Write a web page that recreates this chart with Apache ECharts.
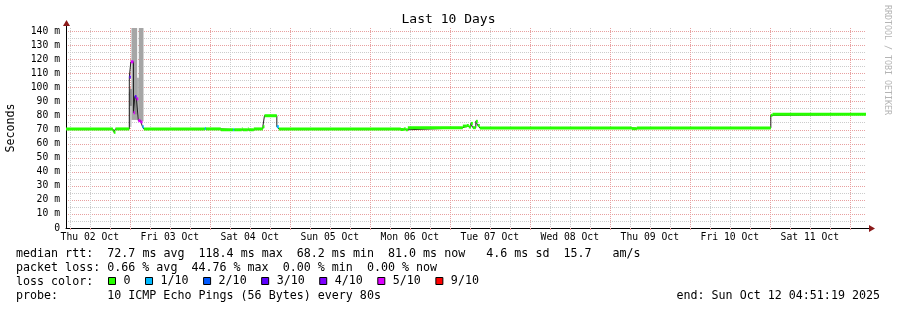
<!DOCTYPE html>
<html>
<head>
<meta charset="utf-8">
<script src="https://cdn.jsdelivr.net/npm/echarts@6/dist/echarts.min.js"></script>
<style>
  html, body { margin: 0; padding: 0; background: #fff; }
  #chart { width: 897px; height: 310px; }
</style>
</head>
<body>
<div id="chart"></div>
<script>
// time in hours since Thu 02 Oct 00:00
const startHour = 4.855;   // 04:51:19
const endHour = 244.855;   // Sun 12 Oct 04:51:19

const dayLabels = ['Thu 02 Oct', 'Fri 03 Oct', 'Sat 04 Oct', 'Sun 05 Oct', 'Mon 06 Oct',
  'Tue 07 Oct', 'Wed 08 Oct', 'Thu 09 Oct', 'Fri 10 Oct', 'Sat 11 Oct'];

// median rtt (ms), held from each time until the next one, with the loss count (of 10 pings)
const times = [4.855, 18.9, 19.2, 19.7, 23.85, 24.3, 25.1, 25.5, 26.0, 26.55, 27.2, 27.8, 28.2,
  46.5, 46.8, 51.3, 55.0, 55.3, 57.6, 57.9, 59.4, 59.7, 61.2, 63.9, 64.4, 68.1, 68.7,
  105.3, 106.2, 106.8, 107.4, 123.9, 125.1, 125.7, 126.3, 126.9, 127.8, 128.4, 129.0,
  174.6, 176.1, 216.3, 216.8];
const medianMs = [70.6, 69.4, 68.2, 70.6, 107.5, 118.4, 82.2, 93.6, 92.0, 76.5, 75.5, 72.2, 70.6,
  70.9, 70.6, 70.0, 70.0, 70.0, 70.6, 70.0, 70.6, 70.0, 70.6, 72.2, 80.0, 72.2, 70.6,
  70.2, 70.6, 70.0, 71.4, 72.6, 73.0, 72.0, 74.5, 71.5, 76.0, 73.0, 71.3,
  70.8, 71.3, 80.3, 81.0];
const lossCount = [0, 0, 0, 0, 3, 5, 5, 3, 5, 5, 5, 1, 0,
  1, 0, 0, 1, 0, 0, 0, 0, 0, 0, 0, 0, 1, 0,
  0, 0, 0, 0, 0, 0, 0, 0, 0, 0, 0, 0,
  0, 0, 0, 0];

// smoke (ping spread) around the spike: [from, to, low ms, high ms]
const smokeLight = [[23.7, 24.5, 72, 97]];
const smokeMid = [[24.5, 26.2, 77, 142.5], [26.2, 26.7, 77, 107], [26.7, 28.1, 76, 142.5]];
const smokeDark = [[24.0, 24.6, 87, 99], [25.5, 26.1, 81, 94]];

const lossNames = ['0', '1/10', '2/10', '3/10', '4/10', '5/10', '9/10'];
const lossLevels = [0, 1, 2, 3, 4, 5, 9];
const lossColors = ['#26ff00', '#00b8ff', '#0059ff', '#5e00ff', '#7e00ff', '#dd00ff', '#ff0000'];

const mono = 'DejaVu Sans Mono';
const gridRed = '#e8a0a0';
const gridGrey = '#cccccc';

let gridHours = [];
for (let h = 6; h < endHour; h += 6) {
  if (h > startHour) gridHours.push(h);
}
const labelHours = dayLabels.map((d, i) => 12 + 24 * i);

let medianLine = times.map((t, i) => [t, medianMs[i]]);
medianLine.push([endHour, medianMs[medianMs.length - 1]]);

function bandsFor(level) {
  let out = [];
  times.forEach((t, i) => {
    if (lossCount[i] === level) {
      let next = i + 1 < times.length ? times[i + 1] : endHour;
      out.push([t, next, medianMs[i]]);
    }
  });
  return out;
}

function bandItem(params, api) {
  const a = api.coord([api.value(0), api.value(2)]);
  const b = api.coord([api.value(1), api.value(2)]);
  return {
    type: 'rect',
    shape: { x: a[0], y: a[1] - 1.5, width: b[0] - a[0], height: 3 },
    style: { fill: api.visual('color') }
  };
}

function smokeItem(params, api) {
  const a = api.coord([api.value(0), api.value(3)]);
  const b = api.coord([api.value(1), api.value(2)]);
  return {
    type: 'rect',
    shape: { x: a[0], y: a[1], width: b[0] - a[0], height: b[1] - a[1] },
    style: { fill: api.visual('color') }
  };
}

const smokeSeries = [[smokeLight, '#c4c4c4'], [smokeMid, '#a6a6a6'], [smokeDark, '#8a8a8a']].map(s => ({
  type: 'custom',
  name: 'smoke',
  renderItem: smokeItem,
  encode: { x: [0, 1], y: [2, 3] },
  itemStyle: { color: s[1] },
  silent: true,
  z: 1,
  data: s[0]
}));

const lossSeries = lossNames.map((name, i) => ({
  type: 'custom',
  name: name,
  renderItem: bandItem,
  encode: { x: [0, 1], y: 2 },
  itemStyle: { color: lossColors[i] },
  silent: true,
  z: 3,
  data: bandsFor(lossLevels[i])
}));

const legendFont = '11.67px "DejaVu Sans Mono"';
// text line, x position, y centre
const infoTexts = [
  ['median rtt:', 16, 254.3],
  ['72.7 ms avg  118.4 ms max  68.2 ms min  81.0 ms now   4.6 ms sd  15.7   am/s', 107.3, 254.3],
  ['packet loss: 0.66 % avg  44.76 % max  0.00 % min  0.00 % now', 16, 268.3],
  ['loss color:', 16, 282.3],
  ['probe:       10 ICMP Echo Pings (56 Bytes) every 80s', 16, 296]
];

const chart = echarts.init(document.getElementById('chart'));
chart.setOption({
  animation: false,
  backgroundColor: '#fff',
  title: {
    text: 'Last 10 Days',
    left: 'center',
    top: 13,
    padding: 0,
    textStyle: { fontFamily: mono, fontSize: 13, fontWeight: 'normal', color: '#000' }
  },
  grid: { left: 66, right: 31, top: 28, bottom: 82, outerBoundsMode: 'none' },
  legend: {
    data: lossNames,
    left: 108,
    top: 275,
    padding: 0,
    icon: 'rect',
    itemWidth: 7,
    itemHeight: 7,
    itemGap: 14.5,
    selectedMode: false,
    itemStyle: { borderColor: '#000', borderWidth: 1 },
    textStyle: { fontFamily: mono, fontSize: 11.67, color: '#000', padding: [0, 0, 0, 3] }
  },
  xAxis: {
    type: 'value',
    min: startHour,
    max: endHour,
    axisLine: { show: true, lineStyle: { color: '#000', width: 1 } },
    axisTick: { show: true, length: 2, customValues: gridHours, lineStyle: { color: gridRed } },
    axisLabel: {
      customValues: labelHours,
      formatter: v => dayLabels[Math.round((v - 12) / 24)],
      fontFamily: mono,
      fontSize: 9.72,
      color: '#000',
      margin: 4
    },
    splitLine: { show: true, lineStyle: { color: [gridGrey, gridGrey, gridGrey, gridRed], type: [1, 1], width: 1 } }
  },
  yAxis: {
    type: 'value',
    min: 0,
    max: 142.5,
    interval: 5,
    name: 'Seconds',
    nameLocation: 'middle',
    nameGap: 49,
    nameTextStyle: { fontFamily: mono, fontSize: 11.67, color: '#000' },
    axisLine: { show: true, lineStyle: { color: '#000', width: 1 } },
    axisTick: { show: false },
    axisLabel: {
      interval: 0,
      formatter: v => (v % 10 === 0 ? (v === 0 ? '0' : v + ' m') : ''),
      fontFamily: mono,
      fontSize: 9.72,
      color: '#000',
      margin: 6
    },
    splitLine: { show: true, showMaxLine: false, lineStyle: { color: [gridRed, gridGrey], type: [1, 1], width: 1 } }
  },
  graphic: [
    { type: 'line', shape: { x1: 866, y1: 228.5, x2: 870, y2: 228.5 }, style: { stroke: '#000', lineWidth: 1 } },
    { type: 'polygon', shape: { points: [[869, 225], [875, 228.5], [869, 232]] }, style: { fill: '#8b1a1a' } },
    { type: 'line', shape: { x1: 66.5, y1: 28, x2: 66.5, y2: 24 }, style: { stroke: '#000', lineWidth: 1 } },
    { type: 'polygon', shape: { points: [[63, 26], [66.5, 20], [70, 26]] }, style: { fill: '#8b1a1a' } },
    { type: 'text', x: 880, y: 296, style: { text: 'end: Sun Oct 12 04:51:19 2025', font: legendFont, fill: '#000', align: 'right', verticalAlign: 'middle' } },
    { type: 'text', x: 887, y: 5, rotation: -Math.PI / 2, style: { text: 'RRDTOOL / TOBI OETIKER', font: '8.3px "DejaVu Sans Mono"', fill: '#b4b4b4', verticalAlign: 'middle' } }
  ].concat(infoTexts.map(t => ({
    type: 'text', x: t[1], y: t[2],
    style: { text: t[0], font: legendFont, fill: '#000', verticalAlign: 'middle' }
  }))),
  series: smokeSeries.concat([{
    type: 'line',
    name: 'median',
    step: 'end',
    showSymbol: false,
    silent: true,
    z: 2,
    lineStyle: { color: '#202020', width: 1 },
    data: medianLine
  }]).concat(lossSeries)
});
</script>
</body>
</html>
